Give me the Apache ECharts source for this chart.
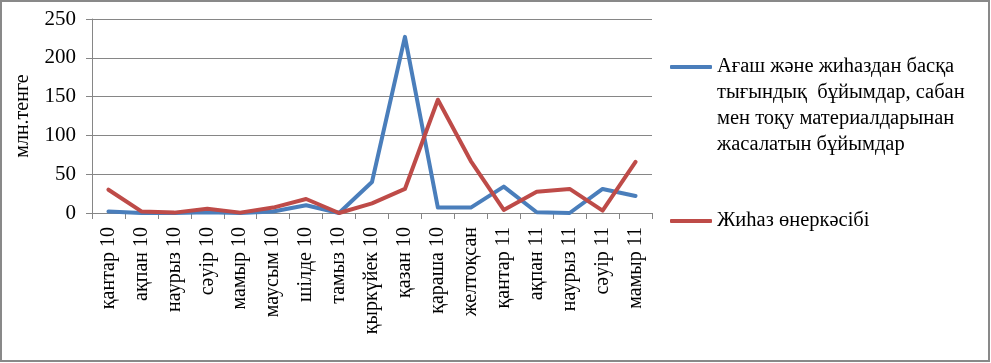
<!DOCTYPE html>
<html>
<head>
<meta charset="utf-8">
<script src="https://cdn.jsdelivr.net/npm/echarts@6/dist/echarts.min.js"></script>
<style>html,body{margin:0;padding:0;background:#fff}#c{width:991px;height:363px}</style>
</head>
<body>
<div id="c"></div>
<script>
const categories = ['қантар 10','ақпан 10','наурыз 10','сәуір 10','мамыр 10','маусым 10','шілде 10','тамыз 10','қыркүйек 10','қазан 10','қараша 10','желтоқсан','қантар 11','ақпан 11','наурыз 11','сәуір 11','мамыр 11'];
const seriesNames = ['Ағаш және жиһаздан басқа тығындық  бұйымдар, сабан мен тоқу материалдарынан жасалатын бұйымдар', 'Жиһаз өнеркәсібі'];
const legendLines = ['Ағаш және жиһаздан басқа', 'тығындық  бұйымдар, сабан', 'мен тоқу материалдарынан', 'жасалатын бұйымдар'];
const woodValues = [2, 0, 0, 1, 0, 2, 10, 0, 40, 227, 7, 7, 34, 1, 0, 31, 22];
const furnitureValues = [30, 2, 0.5, 5.5, 0.5, 7, 18, 0, 12.5, 31, 146, 67, 4, 27.5, 31, 3, 66];
const yTicks = {min: 0, max: 250, interval: 50};
const yName = 'млн.тенге';

const chart = echarts.init(document.getElementById('c'));
const F = 'Liberation Serif';
chart.setOption({
  animation: false,
  backgroundColor: '#fff',
  graphic: [{type: 'rect', shape: {x: 1, y: 1, width: 988, height: 360}, style: {fill: 'none', stroke: '#898989', lineWidth: 2}, silent: true}],
  grid: {left: 92, right: 339, top: 19, bottom: 150, containLabel: false},
  legend: {
    orient: 'vertical', left: 670, top: -24, padding: 0, itemWidth: 42, itemHeight: 4, itemGap: 50,
    icon: 'roundRect',
    data: seriesNames,
    textStyle: {fontFamily: F, fontSize: 20.5, color: '#000', lineHeight: 26},
    formatter: function (n) { return n === seriesNames[0] ? '\n\n\n' + legendLines.join('\n') : n; }
  },
  xAxis: {
    type: 'category', data: categories, boundaryGap: true,
    axisLine: {lineStyle: {color: '#868686', width: 1}},
    axisTick: {show: true, length: 6, alignWithLabel: false, lineStyle: {color: '#868686'}},
    axisLabel: {interval: 0, rotate: 90, margin: 14, fontFamily: F, fontSize: 20, color: '#000'}
  },
  yAxis: {
    type: 'value', min: yTicks.min, max: yTicks.max, interval: yTicks.interval,
    name: yName, nameLocation: 'middle', nameRotate: 90, nameGap: 59,
    nameTextStyle: {fontFamily: F, fontSize: 20, color: '#000'},
    axisLine: {show: true, lineStyle: {color: '#868686', width: 1}},
    axisTick: {show: true, length: 6, lineStyle: {color: '#868686'}},
    axisLabel: {margin: 16, fontFamily: F, fontSize: 21, color: '#000'},
    splitLine: {lineStyle: {color: '#868686', width: 1}}
  },
  series: [
    {name: seriesNames[0], type: 'line', data: woodValues, symbol: 'none', color: '#4A7EBB',
     lineStyle: {width: 4, color: '#4A7EBB', cap: 'round', join: 'round'}},
    {name: seriesNames[1], type: 'line', data: furnitureValues, symbol: 'none', color: '#BE4B48',
     lineStyle: {width: 4, color: '#BE4B48', cap: 'round', join: 'round'}}
  ]
});
</script>
</body>
</html>
